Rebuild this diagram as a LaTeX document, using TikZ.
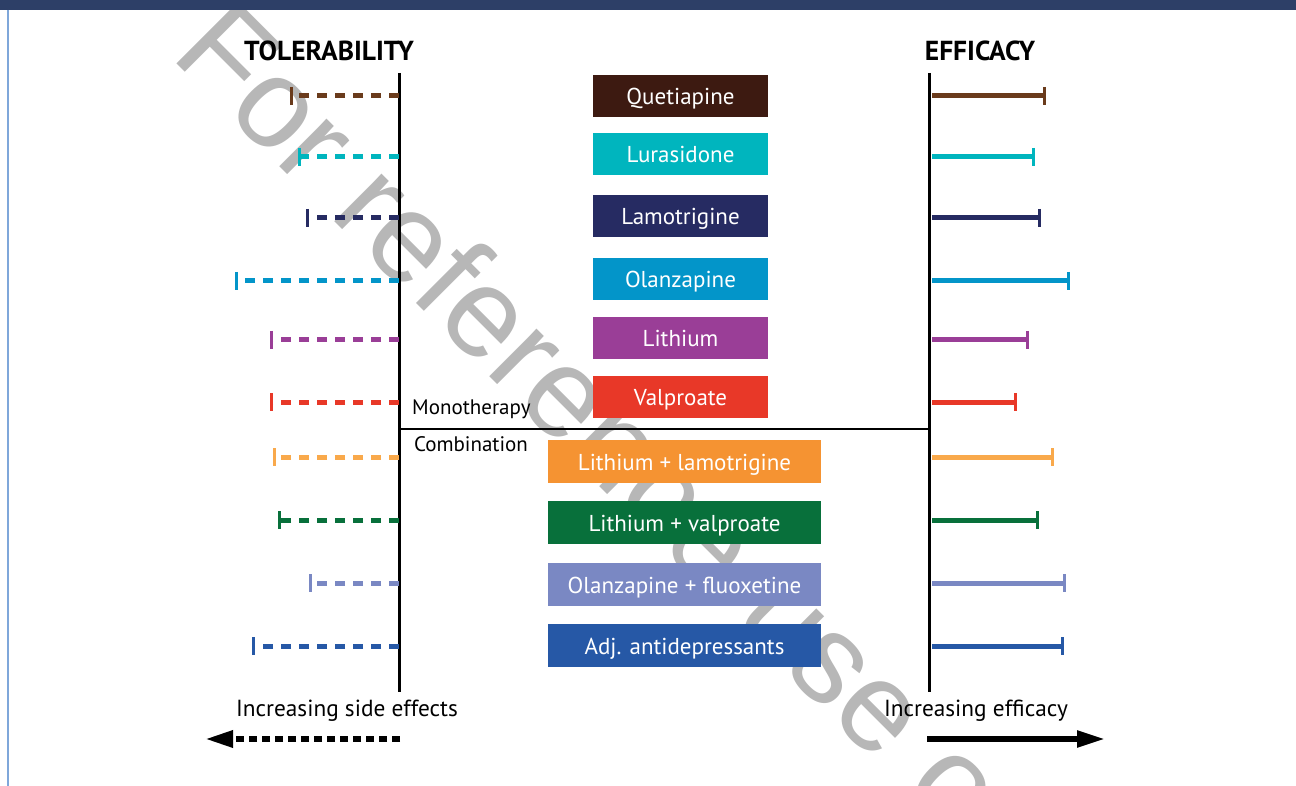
\documentclass[tikz,border=0pt]{standalone}
\usepackage{fontspec}
\setmainfont{PT Sans}
\newfontfamily\wmfont{Liberation Sans}
\usetikzlibrary{arrows.meta}
\definecolor{hdr}{HTML}{2D3F67}
\definecolor{brd}{HTML}{7FA7DA}
\definecolor{wm}{HTML}{B7B7B7}
\definecolor{cQbox}{HTML}{3D1A11}
\definecolor{cQ}{HTML}{6A3B1C}
\definecolor{cLu}{HTML}{00B5BE}
\definecolor{cLa}{HTML}{262B62}
\definecolor{cOl}{HTML}{0395C9}
\definecolor{cLi}{HTML}{9A3E97}
\definecolor{cVa}{HTML}{E83828}
\definecolor{cLLbox}{HTML}{F59332}
\definecolor{cLL}{HTML}{F9A94B}
\definecolor{cLV}{HTML}{08703B}
\definecolor{cOF}{HTML}{7A88C3}
\definecolor{cAD}{HTML}{2658A6}
\tikzset{
  drugbox/.style={inner sep=0pt, text=white, font=\fontsize{23}{26}\selectfont, text height=17.5pt, text depth=0.5pt},
  monobox/.style={drugbox, minimum width=175pt, minimum height=42pt},
  combobox/.style={drugbox, minimum width=273pt, minimum height=43pt},
  tolline/.style={line width=5pt, dash pattern=on 10pt off 8pt},
  effline/.style={line width=5pt},
  tickmark/.style={line width=3pt},
  axisline/.style={line width=3pt, black},
  lbl/.style={inner sep=0pt, font=\fontsize{21}{24}\selectfont},
  blbl/.style={inner sep=0pt, font=\fontsize{23.3}{26}\selectfont},
  head/.style={inner sep=0pt, font=\bfseries\fontsize{27.5}{30}\selectfont},
}
\begin{document}
\begin{tikzpicture}[x=1pt,y=-1pt]
\useasboundingbox (0,0) rectangle (1296,786);
\fill[white] (0,0) rectangle (1296,786);
% watermark
\begin{scope}
\clip (0,0) rectangle (1296,786);
\node[rotate=-45, anchor=base west, inner sep=0pt, text=wm, font=\wmfont\fontsize{127}{130}\selectfont] (wmk) at (169,56) {For reference use only};
\end{scope}
% header and border
\fill[hdr] (0,0) rectangle (1296,10);
\draw[brd, line width=1.5pt] (8,10) -- (8,786);
% axes
\coordinate (lt) at (399,73); \coordinate (lb) at (399,692);
\coordinate (rt) at (929,73); \coordinate (rb) at (929,692);
\draw[axisline] (lt) -- (lb);
\draw[axisline] (rt) -- (rb);
\coordinate (dl) at (399,429); \coordinate (dr) at (929,429);
\draw[line width=1.3pt] (dl) -- (dr);
% headings
\node[head] (tol) at (329,51) {TOLERABILITY};
\node[head] (eff) at (980,51) {EFFICACY};
\node[lbl, anchor=west] (mono) at (412,409) {Monotherapy};
\node[lbl] (comb) at (471,444) {Combination};
% boxes
\node[monobox, fill=cQbox] (q) at (680.5,96) {Quetiapine};
\node[monobox, fill=cLu] (lu) at (680.5,154.5) {Lurasidone};
\node[monobox, fill=cLa] (la) at (680.5,216.5) {Lamotrigine};
\node[monobox, fill=cOl] (ol) at (680.5,279) {Olanzapine};
\node[monobox, fill=cLi] (li) at (680.5,338) {Lithium};
\node[monobox, fill=cVa] (va) at (680.5,397) {Valproate};
\node[combobox, fill=cLLbox] (ll) at (684.5,461.5) {Lithium + lamotrigine};
\node[combobox, fill=cLV] (lv) at (684.5,522.5) {Lithium + valproate};
\node[combobox, fill=cOF] (of) at (684.5,584.5) {Olanzapine + fluoxetine};
\node[combobox, fill=cAD] (ad) at (684.5,645.5) {Adj. antidepressants};
% bars
\foreach \n/\c/\y/\t/\e in {q/cQ/96/291/1044, lu/cLu/157/299/1033, la/cLa/218/307/1039, ol/cOl/281/236/1068, li/cLi/340/271/1027, va/cVa/402/271/1015, ll/cLL/457/274/1052, lv/cLV/520/279/1037, of/cOF/583/310/1064, ad/cAD/646/253/1062}{
  \coordinate (\n-ta) at (399,\y);
  \coordinate (\n-tl) at (\t,\y);
  \coordinate (\n-ea) at (932,\y);
  \coordinate (\n-er) at (\e,\y);
  \draw[tolline, \c] (\n-ta) -- (\n-tl);
  \draw[tickmark, \c] ([yshift=9pt]\n-tl) -- ([yshift=-9pt]\n-tl);
  \draw[effline, \c] (\n-ea) -- (\n-er);
  \draw[tickmark, \c] ([yshift=9pt]\n-er) -- ([yshift=-9pt]\n-er);
}
% bottom labels and arrows
\node[blbl] (ise) at (347,711) {Increasing side effects};
\node[blbl] (ief) at (976,711) {Increasing efficacy};
\coordinate (a1s) at (400,739); \coordinate (a1e) at (205,739);
\coordinate (a2s) at (927,739); \coordinate (a2e) at (1105,739);
\draw[line width=6pt, dash pattern=on 8pt off 5pt, -{Triangle[length=28pt,width=16pt]}] (a1s) -- (a1e);
\draw[line width=5.5pt, -{Triangle[length=28pt,width=16pt]}] (a2s) -- (a2e);
\end{tikzpicture}
\end{document}
